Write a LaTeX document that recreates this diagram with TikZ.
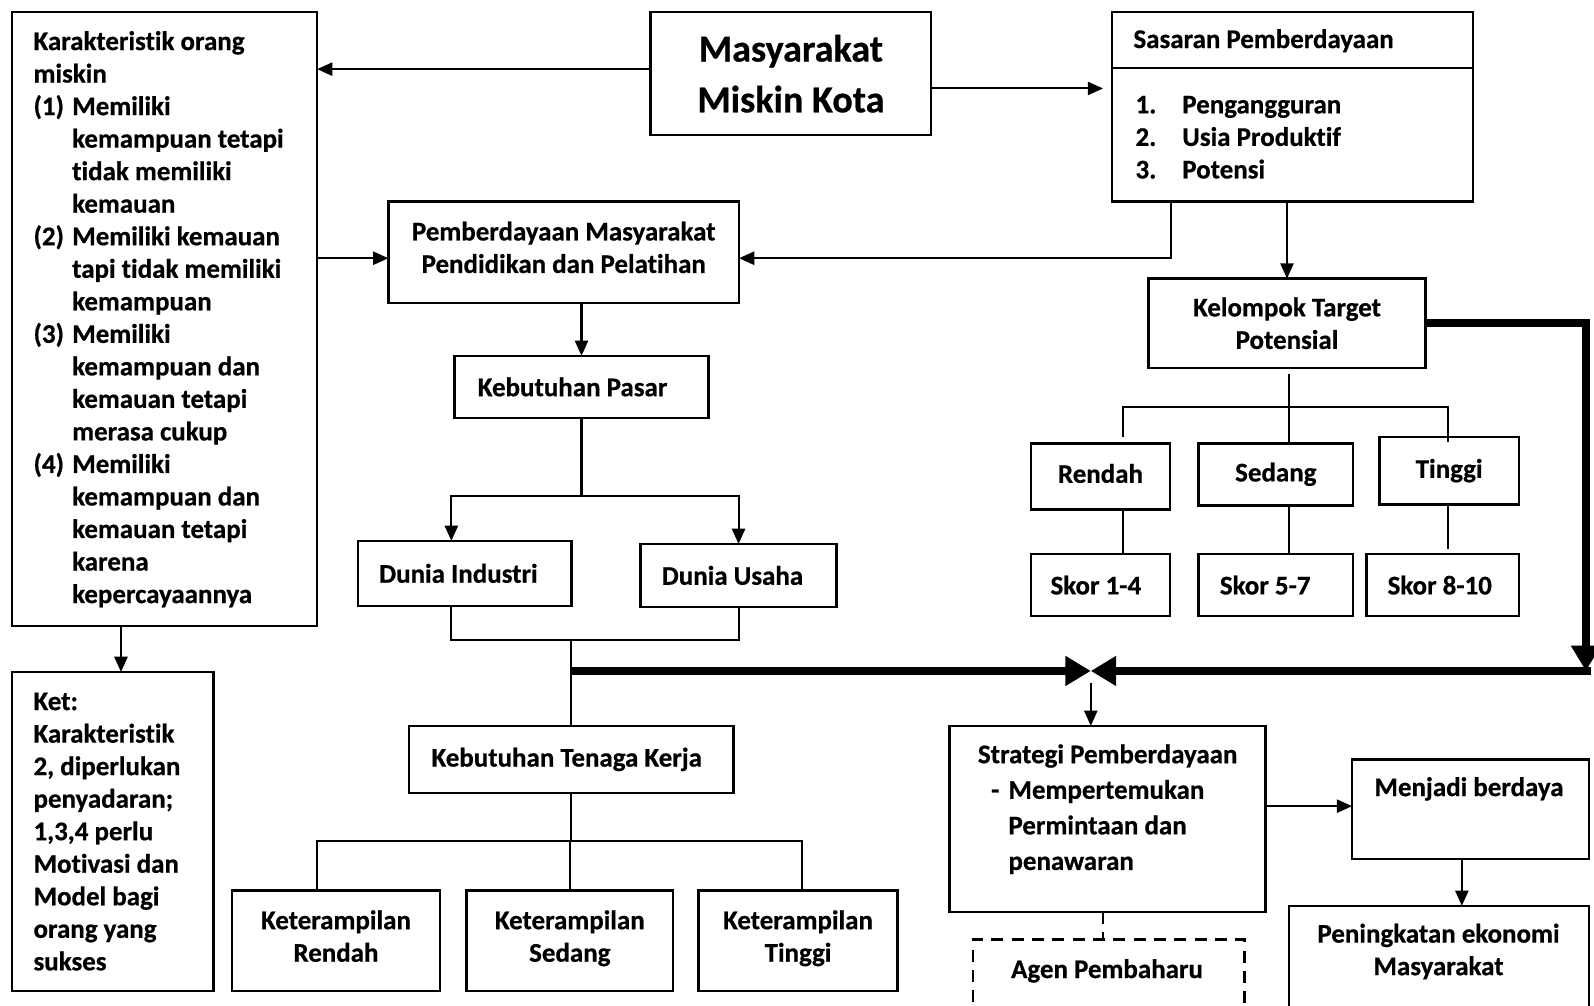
\documentclass[tikz,border=0pt]{standalone}
\usepackage{fontspec}
\setmainfont{Carlito}[BoldFont={Carlito Bold}, BoldFeatures={FakeBold=0.6}, Ligatures=NoCommon]
\usetikzlibrary{arrows.meta}

\newcommand{\butir}[1]{\makebox[38pt][l]{#1}}
\newcommand{\geser}{\hspace*{38pt}}

\tikzset{
  box/.style={draw, line width=2.5pt, align=center, inner sep=0pt, outer sep=0pt},
  kiri/.style={align=flush left, inner xsep=21pt, text width=#1},
  teks/.style={inner sep=0pt, outer sep=0pt},
  garis/.style={line width=2pt},
  panah/.style={line width=2pt, -{Triangle[length=15pt,width=13pt]}},
  panahtebal/.style={line width=8pt, -{Triangle[length=25pt,width=28pt]}},
  putus/.style={line width=2.5pt, dash pattern=on 12pt off 8pt}
}

\begin{document}
\begin{tikzpicture}[x=1pt, y=-1pt, font=\bfseries\fontsize{26.5}{32}\selectfont]
  \clip (0,0) rectangle (1568,989);

  % kolom kiri
  \node[box, kiri=258pt, minimum width=300pt, minimum height=604pt] (kar) at (162,314)
    {Karakteristik orang\\miskin\\
     \butir{(1)}Memiliki\\\geser kemampuan tetapi\\\geser tidak memiliki\\\geser kemauan\\
     \butir{(2)}Memiliki kemauan\\\geser tapi tidak memiliki\\\geser kemampuan\\
     \butir{(3)}Memiliki\\\geser kemampuan dan\\\geser kemauan tetapi\\\geser merasa cukup\\
     \butir{(4)}Memiliki\\\geser kemampuan dan\\\geser kemauan tetapi\\\geser karena\\\geser kepercayaannya};
  \node[box, kiri=156pt, minimum width=198pt, minimum height=314pt] (ket) at (111,818)
    {Ket:\\Karakteristik\\2, diperlukan\\penyadaran;\\1,3,4 perlu\\Motivasi dan\\Model bagi\\orang yang\\sukses};

  % bagian atas
  \node[box, minimum width=276pt, minimum height=121pt, font=\bfseries\fontsize{37.5}{50}\selectfont] (mmk) at (778,72.5)
    {Masyarakat\\Miskin Kota};
  \node[box, minimum width=355pt, minimum height=186pt] (sas) at (1271.5,105) {};
  \node[teks, anchor=west] (sastit) at (1115,40) {Sasaran Pemberdayaan};
  \node[teks, anchor=west, align=left] (saslist) at (1117,135)
    {\makebox[46pt][l]{1.}Pengangguran\\\makebox[46pt][l]{2.}Usia Produktif\\\makebox[46pt][l]{3.}Potensi};
  \coordinate (sd) at ([yshift=-55pt]sas.north);
  \draw[line width=1.5pt] (sd -| sas.west) -- (sd -| sas.east);

  % pendidikan dan pasar
  \node[box, minimum width=345pt, minimum height=100pt] (pmd) at (554.5,248)
    {Pemberdayaan Masyarakat\\Pendidikan dan Pelatihan\strut};
  \node[box, kiri=204pt, inner xsep=23pt, minimum width=250pt, minimum height=61pt] (kpas) at (572,380.5) {Kebutuhan Pasar};
  \node[box, kiri=168pt, minimum width=210pt, minimum height=64pt] (dind) at (457,564) {Dunia Industri};
  \node[box, kiri=151pt, minimum width=193pt, minimum height=62pt] (dusa) at (726.5,566) {Dunia Usaha};
  \node[box, minimum width=319pt, minimum height=66pt] (ktk) at (562,747) {\hspace*{-9pt}Kebutuhan Tenaga Kerja};
  \node[box, minimum width=205pt, minimum height=99pt] (ketr) at (330.5,925.5) {Keterampilan\\Rendah\strut};
  \node[box, minimum width=203pt, minimum height=99pt] (kets) at (560.5,925.5) {Keterampilan\\Sedang\strut};
  \node[box, minimum width=196pt, minimum height=99pt] (kett) at (785,925.5) {Keterampilan\\Tinggi\strut};

  % kelompok target
  \node[box, minimum width=272pt, minimum height=88pt] (kel) at (1266,318) {Kelompok Target\\Potensial};
  \node[box, minimum width=137pt, minimum height=65pt] (ren) at (1082.5,468.5) {Rendah\strut};
  \node[box, minimum width=152pt, minimum height=61pt] (sed) at (1255,466.5) {Sedang};
  \node[box, minimum width=137pt, minimum height=66pt] (tin) at (1425.5,463) {Tinggi};
  \node[box, minimum width=137pt, minimum height=61pt] (sk1) at (1082.5,575.5) {\hspace*{-9pt}Skor 1-4};
  \node[box, kiri=110pt, minimum width=152pt, minimum height=61pt] (sk2) at (1255,575.5) {Skor 5-7};
  \node[box, kiri=108pt, minimum width=150pt, minimum height=61pt] (sk3) at (1419,575.5) {Skor 8-10};

  % strategi dan hasil
  \node[box, minimum width=311pt, minimum height=183pt] (str) at (1089.5,805.5) {};
  \node[teks, anchor=west, align=left, font=\bfseries\fontsize{26.5}{35}\selectfont] (strtxt) at (962,796)
    {Strategi Pemberdayaan\\\hspace*{13pt}\makebox[17pt][l]{-}Mempertemukan\\\hspace*{30pt}Permintaan dan\\\hspace*{30pt}penawaran};
  \node[box, minimum width=233pt, minimum height=98pt] (men) at (1446.5,796) {};
  \node[teks] (mentxt) at (1445,776) {Menjadi berdaya};
  \node[box, minimum width=295pt, minimum height=109pt] (pen) at (1415.5,945.5) {};
  \node[teks, align=center] (pentxt) at (1415,936) {Peningkatan ekonomi\\Masyarakat};
  \node[draw, putus, minimum width=267pt, minimum height=76pt, outer sep=0pt] (agen) at (1090.5,962) {};
  \node[teks] (agentxt) at (1089,955) {Agen Pembaharu};

  % panah dari masyarakat miskin kota
  \coordinate (m1) at ([yshift=4.5pt]mmk.west);
  \draw[panah] (m1) -- (m1 -| kar.east);
  \coordinate (m2) at ([yshift=-14.5pt]mmk.east);
  \draw[panah, shorten >=9pt] (m2) -- (m2 -| sas.west);
  \coordinate (k1) at ([yshift=-6pt]pmd.west);
  \draw[panah] (k1 -| kar.east) -- (k1);
  \coordinate (s1) at ([xshift=-119.5pt]sas.south);
  \draw[panah] (s1) |- (k1 -| pmd.east);
  \draw[panah] (kel.north |- sas.south) -- (kel.north);
  \coordinate (k2) at ([xshift=8pt]ket.north);
  \draw[panah] (k2 |- kar.south) -- (k2);

  % pasar ke dunia industri / usaha
  \draw[panah] (pmd.south -| kpas.north) -- (kpas.north);
  \coordinate (jp) at ([yshift=-77pt]kpas.south);
  \draw[garis] (kpas.south) -- (jp);
  \draw[panah] (jp) -| ([xshift=-13pt]dind.north);
  \draw[panah] (jp) -| (dusa.north);
  \coordinate (jd) at ([yshift=84pt]ktk.north);
  \draw[garis] ([xshift=-13pt]dind.south) |- (jd) -| (dusa.south);
  \draw[garis] (jd) -- (ktk.north);

  % tenaga kerja ke keterampilan
  \coordinate (jk) at ([yshift=-47pt]ktk.south);
  \draw[garis] (ktk.south) -- (jk);
  \draw[garis] ([xshift=-18.5pt]ketr.north) |- (jk) -| ([xshift=4pt]kett.north);
  \draw[garis] (jk) -- (jk -| kets.north) -- (kets.north);

  % kelompok target ke rendah / sedang / tinggi
  \coordinate (jt) at ([xshift=2pt,yshift=-38pt]kel.south);
  \draw[garis] ([xshift=2pt,yshift=-6pt]kel.south) -- (jt);
  \draw[garis] ([xshift=22.5pt,yshift=6pt]ren.north) |- (jt) -| ([xshift=-1.5pt,yshift=-5pt]tin.north);
  \draw[garis] (jt) -- ([xshift=13pt]sed.north);
  \draw[garis] ([xshift=22.5pt]ren.south) -- ([xshift=22.5pt]sk1.north);
  \draw[garis] ([xshift=13pt]sed.south) -- ([xshift=13pt]sk2.north);
  \draw[garis] ([xshift=-1.5pt]tin.south) -- ([xshift=5pt,yshift=5pt]sk3.north);

  % panah tebal bertemu
  \coordinate (tl) at ([yshift=54pt]ktk.north);
  \coordinate (meet) at (1073,660);
  \coordinate (rc) at (1560,660);
  \draw[panahtebal] (tl) -- (meet);
  \draw[panahtebal] (kel.east) -| (rc);
  \draw[panahtebal] ([xshift=5pt]rc) -- (meet);
  \draw[panah] ([yshift=-12pt]meet) -- (meet |- str.north);

  % strategi ke hasil
  \coordinate (s2) at ([yshift=12.5pt]str.east);
  \draw[panah] (s2) -- (s2 -| men.west);
  \coordinate (m3) at ([xshift=-8.5pt]men.south);
  \draw[panah] (m3) -- (m3 |- pen.north);
  \coordinate (a1) at ([xshift=-4.5pt]str.south);
  \draw[putus] (a1) -- (a1 |- agen.north);
\end{tikzpicture}
\end{document}
